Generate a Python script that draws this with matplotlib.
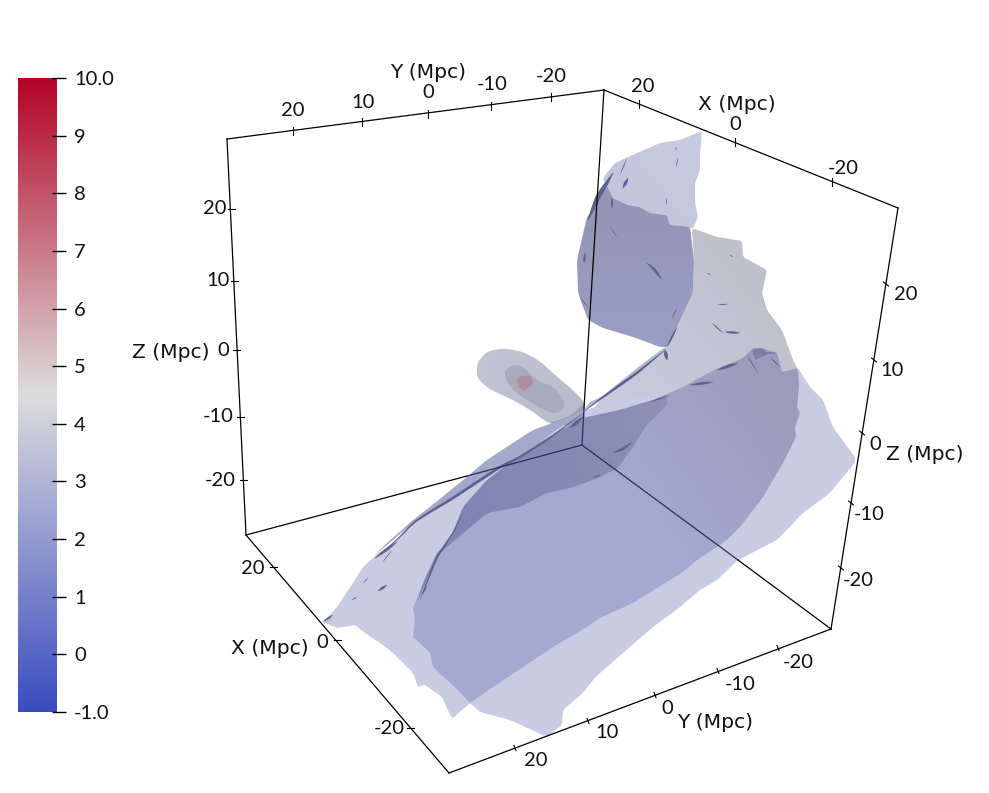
import numpy as np
import matplotlib
matplotlib.use("Agg")
import matplotlib.pyplot as plt
from matplotlib.colors import LinearSegmentedColormap, to_rgb
from matplotlib.patches import Polygon

FONT = "Lato"
TITLE_FONT = "DejaVu Sans"
FS = 14.5
TFS = 14.6
W, H = 989, 793

# ---------- colour bar ----------
cbar_ticks = [-1, 0, 1, 2, 3, 4, 5, 6, 7, 8, 9, 10]
cbar_labels = ["-1.0", "0", "1", "2", "3", "4", "5", "6", "7", "8", "9", "10.0"]
cbar_colors = ["#3b4cc0", "#dddddd", "#b40426"]

# ---------- cube (picture coordinates) ----------
corner_A = (227, 139); corner_B = (604, 90); corner_C = (898, 208)
corner_D = (831, 629); corner_E = (449, 773); corner_F = (246, 535)
corner_G = (582, 445)
cut_GF = (467, 476); cut_GD = (738, 560); cut_GB = (584, 408)

# ---------- tick positions and labels ----------
ytop_labels = ["20", "10", "0", "-10", "-20"]
ytop_ticks = [(293, 131), (362, 122), (428, 114), (491, 106), (551, 97)]
ytop_text = [(293, 111), (363, 102), (428, 93), (492, 85), (551, 77)]
xtop_labels = ["20", "0", "-20"]
xtop_ticks = [(639, 104), (735, 142), (832, 182)]
xtop_text = [(643, 87), (735, 124), (843, 168)]
zl_labels = ["20", "10", "0", "-10", "-20"]
zl_ticks = [(231, 209), (234, 281), (236, 350), (240, 417), (243, 480)]
zl_text = [(215, 209), (218, 281), (223, 350), (218, 417), (220, 480)]
zr_labels = ["20", "10", "0", "-10", "-20"]
zr_ticks = [(886, 284), (874, 360), (862, 433), (851, 503), (841, 568)]
zr_text = [(906, 295), (892, 371), (875, 444), (869, 514), (858, 581)]
xb_labels = ["20", "0", "-20"]
xb_ticks = [(273, 567), (337, 640), (410, 728)]
xb_text = [(253, 568), (322, 642), (389, 728)]
yb_labels = ["20", "10", "0", "-10", "-20"]
yb_ticks = [(515, 748), (588, 721), (655, 695), (718, 671), (778, 648)]
yb_text = [(536, 760), (607, 733), (667, 708), (740, 685), (798, 662)]
axis_titles = ["Y (Mpc)", "X (Mpc)", "Z (Mpc)", "Z (Mpc)", "X (Mpc)", "Y (Mpc)"]
axis_title_pos = [(428, 73), (737, 104), (171, 353), (925, 455), (270, 648), (715, 723)]

# ---------- surface outlines ----------
flap = [(603,178),(615,163),(637,153),(660,143),(680,140),(702,131),(700,153),(700,170),
        (695,183),(695,203),(698,217),(693,229),(670,225),(667,215),(650,213),(640,207),
        (628,205),(613,198),(607,188)]
dark_cap = [(607,186),(596,205),(587,217),(577,260),(578,293),(588,320),(603,328),(633,337),
            (660,347),(667,347),(677,327),(693,293),(694,260),(690,227),(670,225),(667,215),
            (650,213),(640,207),(628,205),(613,198)]
grey_sheet = [(692,228),(717,237),(742,241),(743,257),(767,270),(762,293),(767,310),(782,330),
              (793,360),(798,370),(782,376),(755,366),(710,382),(653,406),(583,421),(603,397),
              (637,373),(667,347),(677,327),(693,293),(694,260)]
light_sheet = [(798,368),(810,387),(823,400),(833,427),(857,460),(830,493),(803,513),(777,540),
               (738,560),(717,580),(700,590),(680,607),(653,627),(623,653),(600,673),(593,680),
               (583,693),(563,710),(562,725),(547,737),(510,720),(480,712),(470,703),(452,719),
               (442,697),(425,685),(418,687),(413,673),(393,653),(383,645),(368,635),(355,625),
               (337,628),(323,622),(337,607),(353,583),(363,567),(375,556),(397,540),(413,520),
               (430,507),(467,477),(487,460),(533,430),(567,418),(583,410),(700,385)]
ellipse = [(470,703),(458,690),(433,667),(430,653),(420,643),(413,637),(415,620),(413,608),
           (423,583),(437,553),(450,540),(463,507),(487,480),(517,457),(547,438),(583,418),
           (620,410),(653,400),(683,387),(710,372),(743,358),(753,348),(762,348),(777,353),
           (782,372),(798,368),(799,387),(797,407),(800,413),(795,427),(796,437),(783,463),
           (763,497),(740,527),(727,540),(697,560),(683,572),(633,603),(600,618),(587,627),
           (553,647),(523,667),(493,687)]
dark_zone = [(417,603),(423,583),(437,553),(450,540),(463,507),(487,480),(517,457),(547,438),
             (583,418),(620,410),(653,400),(667,396),(667,405),(645,427),(633,447),(618,468),
             (593,480),(570,488),(547,493),(520,507),(487,513),(447,547),(437,557),(427,580)]
left_band = [(373,557),(387,543),(413,520),(430,507),(467,477),(487,460),(533,430),(567,418),
             (583,410),(583,414),(560,427),(520,457),(493,470),(463,493),(443,505),(413,523)]
fold_light = [(583,411),(590,402),(603,396),(637,368),(665,347),(667,350),(637,374),(603,398)]
blob_outer = [(477,363),(486,352),(503,348),(524,352),(541,362),(555,375),(574,391),(585,403),
              (586,420),(570,427),(549,424),(529,409),(509,398),(489,389),(477,378)]
blob_inner = [(505,370),(512,365),(522,366),(538,381),(554,387),(564,400),(564,410),(552,414),
              (533,404),(513,391),(505,378)]
blob_core = [(517,377),(530,375),(534,383),(525,391),(518,387)]
blob_over = [(550,423),(570,416),(584,404),(585,420),(570,426)]
dark_patch = [(752,350),(762,348),(768,354),(755,360)]

# ---------- thin folds: polyline + width ----------
streaks = [
    ([(628,178),(623,188)], 3.0), ([(627,158),(620,175)], 0.9), ([(678,158),(676,167)], 0.9),
    ([(675,147),(677,150)], 0.8), ([(666,198),(667,205)], 0.8), ([(612,198),(612,208)], 2.2),
    ([(610,227),(617,237)], 0.8), ([(647,263),(655,270),(662,280)], 2.6), ([(585,253),(584,263)], 2.4),
    ([(580,297),(588,308)], 0.8), ([(672,318),(677,308)], 0.9), ([(730,255),(733,257)], 0.9),
    ([(707,273),(711,275)], 0.9), ([(717,305),(728,304)], 1.0), ([(712,323),(723,333)], 1.2),
    ([(725,332),(740,333)], 2.4), ([(665,350),(667,360)], 3.5), ([(613,173),(598,197),(588,220)], 5.0),
    ([(677,327),(667,347)], 2.0), ([(612,453),(623,449),(632,442)], 2.5), ([(593,478),(600,475)], 1.5),
    ([(747,355),(758,373)], 1.0), ([(762,353),(777,353)], 1.0), ([(770,357),(780,367)], 1.0),
    ([(717,370),(738,363)], 3.0), ([(690,385),(713,382)], 2.5), ([(650,402),(670,395)], 1.5),
    ([(378,591),(387,585)], 2.5), ([(352,600),(357,597)], 1.0), ([(375,558),(397,542)], 2.8),
    ([(382,563),(392,550)], 0.8), ([(422,595),(427,585)], 1.5), ([(363,583),(368,578)], 0.8),
    ([(323,622),(333,615)], 2.0), ([(420,600),(437,557),(453,533),(463,513)], 2.0),
    ([(377,557),(400,537),(413,523),(433,510),(450,500),(500,467),(520,457),(547,440),(583,413)], 2.8),
    ([(583,412),(603,397),(637,373),(665,350)], 2.6),
    ([(570,428),(583,417)], 3.5),
]

fig = plt.figure(figsize=(W / 100, H / 100), dpi=100, facecolor="white")
ax = fig.add_axes([0, 0, 1, 1])
ax.set_xlim(0, W)
ax.set_ylim(H, 0)
ax.axis("off")


def soften(pts, n=1, f=0.08):
    """Light corner cutting: outlines keep their tips but lose hard vertices."""
    a = np.array(pts, float)
    for _ in range(n):
        b = np.roll(a, -1, axis=0)
        a = np.column_stack([(1 - f) * a + f * b, f * a + (1 - f) * b]).reshape(-1, 2)
    return a


def fill(pts, color, z, n=1, f=0.08):
    ax.add_patch(Polygon(soften(pts, n, f), closed=True, fc=color, ec="none", zorder=z))


def shade(pts, c0, c1, start, end, z, n=1, f=0.08):
    """Fill an outline with a soft linear shading between two colours."""
    a = soften(pts, n, f)
    x0, x1, y0, y1 = a[:, 0].min(), a[:, 0].max(), a[:, 1].min(), a[:, 1].max()
    gx, gy = np.meshgrid(np.linspace(x0, x1, 120), np.linspace(y0, y1, 120))
    d = np.array(end, float) - np.array(start, float)
    t = np.clip(((gx - start[0]) * d[0] + (gy - start[1]) * d[1]) / (d @ d), 0, 1)[..., None]
    img = np.array(to_rgb(c0)) * (1 - t) + np.array(to_rgb(c1)) * t
    im = ax.imshow(img, extent=(x0, x1, y1, y0), zorder=z, aspect="auto", interpolation="bilinear")
    clip = Polygon(a, closed=True, transform=ax.transData, fc="none", ec="none")
    ax.add_patch(clip)
    im.set_clip_path(clip)


def sliver(pts, width):
    """A fold seen edge on: thick in the middle, running out at both ends."""
    a = np.array(pts, float)
    seg = np.hypot(*np.diff(a, axis=0).T)
    s = np.r_[0, np.cumsum(seg)]
    u = np.linspace(0, s[-1], 30)
    x, y = np.interp(u, s, a[:, 0]), np.interp(u, s, a[:, 1])
    dx, dy = np.gradient(x), np.gradient(y)
    L = np.hypot(dx, dy)
    w = width / 2 * (0.15 + 0.85 * np.sin(np.pi * u / s[-1]))
    top = np.c_[x - dy / L * w, y + dx / L * w]
    bot = np.c_[x + dy / L * w, y - dx / L * w]
    ax.add_patch(Polygon(np.r_[top, bot[::-1]], closed=True, fc="#5d618f", ec="none", zorder=8))


# surfaces, back to front
shade(flap, "#c3c5dc", "#c8cae1", (620, 200), (700, 140), 2)
shade(dark_cap, "#9396b4", "#9a9ec4", (640, 215), (640, 340), 3)
shade(grey_sheet, "#c0c0cc", "#c9cbdf", (760, 280), (600, 410), 2)
shade(light_sheet, "#c8cbe2", "#c9cce3", (330, 620), (850, 460), 4)
shade(ellipse, "#a5a9d0", "#9a9cb9", (640, 510), (790, 400), 5)
shade(dark_zone, "#8085b3", "#8d90b4", (480, 520), (660, 410), 6)
fill(left_band, "#a4a8c9", 6)
fill(fold_light, "#b4b7d0", 6)
fill(dark_patch, "#7c80a6", 7)

shade(blob_outer, "#c2c3d2", "#b9bacb", (490, 365), (580, 415), 3, n=3, f=0.2)
fill(blob_inner, "#a9aabb", 4, n=3, f=0.2)
fill(blob_core, "#ad8f9f", 4.5, n=1, f=0.15)
fill(blob_over, "#9a9bb4", 4.6)

for pts, lw in streaks:
    sliver(pts, lw)

# cube edges
black_edges = [(corner_A, corner_B), (corner_B, corner_C), (corner_C, corner_D), (corner_D, corner_E),
               (corner_E, corner_F), (corner_F, corner_A), (cut_GF, corner_F), (cut_GD, corner_D),
               (cut_GB, corner_B)]
navy_edges = [(corner_G, cut_GF), (corner_G, cut_GD), (corner_G, cut_GB)]
for p, q in black_edges:
    ax.plot([p[0], q[0]], [p[1], q[1]], color="black", lw=0.9, zorder=9)
for p, q in navy_edges:
    ax.plot([p[0], q[0]], [p[1], q[1]], color="#2a2d5c", lw=0.9, zorder=9)


def axis_marks(ticks, texts, labels, arm):
    for (x, y), (tx, ty), s in zip(ticks, texts, labels):
        ax.plot([x - arm[0], x + arm[0]], [y - arm[1], y + arm[1]], color="black", lw=0.8, zorder=10)
        ax.text(tx, ty, s, ha="center", va="center", fontsize=FS, family=FONT, color="#111111", zorder=11)


axis_marks(ytop_ticks, ytop_text, ytop_labels, (0, 4))
axis_marks(xtop_ticks, xtop_text, xtop_labels, (0, 4))
axis_marks(zl_ticks, zl_text, zl_labels, (3.5, 0))
axis_marks(zr_ticks, zr_text, zr_labels, (2.5, 2))
axis_marks(xb_ticks, xb_text, xb_labels, (3.5, 0))
axis_marks(yb_ticks, yb_text, yb_labels, (1, 2.5))
for s, (x, y) in zip(axis_titles, axis_title_pos):
    ax.text(x, y, s, ha="center", va="center", fontsize=TFS, family=TITLE_FONT, color="#111111", zorder=11)

# colour bar
cax = fig.add_axes([18 / W, 1 - 712 / H, 38 / W, 634 / H])
cmap = LinearSegmentedColormap.from_list("cw", cbar_colors)
cax.imshow(np.linspace(10, -1, 256)[:, None], cmap=cmap, vmin=-1, vmax=10, aspect="auto",
           extent=(0, 1, -1, 10))
cax.set_xticks([])
cax.yaxis.tick_right()
cax.set_yticks(cbar_ticks)
cax.set_yticklabels(cbar_labels, fontsize=FS, family=FONT, color="#111111")
cax.tick_params(axis="y", length=0, pad=13)
for s in cax.spines.values():
    s.set_visible(False)
cax.hlines(cbar_ticks, 0.895, 1.26, color="black", lw=1.0, transform=cax.get_yaxis_transform(),
           clip_on=False, zorder=5)

fig.savefig("out.png", dpi=100, facecolor="white")
